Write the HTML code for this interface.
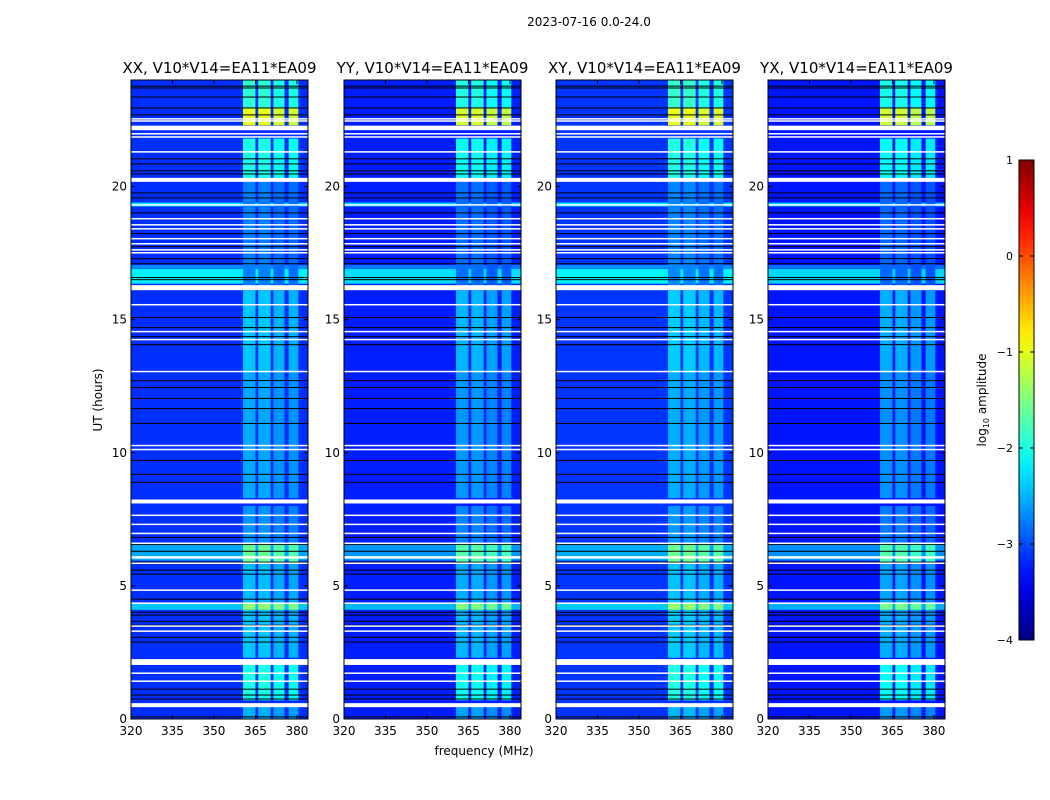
<!DOCTYPE html>
<html><head><meta charset="utf-8">
<style>
body{margin:0;background:#fff;font-family:"DejaVu Sans","Liberation Sans",sans-serif;}
#wrap{position:relative;width:1050px;height:800px;overflow:hidden;}
svg text{font-family:"DejaVu Sans","Liberation Sans",sans-serif;}
</style></head>
<body>
<div id="wrap">
<svg id="fig" width="1050" height="800"></svg>
</div>
<script>
// ---- data ----
const panelTitles = ["XX, V10*V14=EA11*EA09","YY, V10*V14=EA11*EA09","XY, V10*V14=EA11*EA09","YX, V10*V14=EA11*EA09"];
const panelGain = [0, -0.08, 0.03, -0.12];
const freqTicks = [320,335,350,365,380];
const hourTicks = [0,5,10,15,20];
const cbTicks = [1,0,-1,-2,-3,-4];
const cbTickLabels = ["1","0","\u22121","\u22122","\u22123","\u22124"];
const baseLevel = -3.15;
// white flagged rows: [hour, thickness in hours]
const whiteRows = [[22.54,0.05],[22.46,0.05],[22.2,0.17],[21.98,0.05],[21.86,0.05],[21.3,0.05],[20.25,0.15],[19.31,0.05],[18.79,0.05],[18.56,0.05],[18.41,0.05],[18.04,0.05],[17.85,0.05],[17.62,0.05],[17.51,0.05],[16.2,0.19],[15.56,0.05],[14.55,0.05],[14.25,0.05],[13.05,0.05],[10.27,0.05],[10.12,0.05],[8.17,0.15],[7.65,0.05],[7.31,0.05],[6.97,0.05],[6.6,0.05],[6.07,0.09],[5.85,0.05],[4.84,0.05],[4.35,0.05],[3.49,0.05],[3.3,0.05],[2.14,0.22],[1.72,0.05],[1.42,0.05],[0.52,0.15]];
// black rows (hours)
const blackRows = [23.77,23.7,23.36,22.95,22.69,21.04,20.85,20.59,20.47,19.76,19.57,19.01,18.23,17.74,17.29,17.1,16.58,16.5,15.08,14.7,14.36,14.06,12.71,12.45,12.04,11.66,11.1,9.71,9.19,8.89,6.82,6.56,6.3,5.89,5.59,5.44,4.5,4.01,3.9,3.67,3.52,3.07,2.89,1.12,0.9,0.75,0.08];
// bright full-width rows: [start hr, end hr, log amplitude]
const wideRows = [[16.35,16.9,-2.2],[16.9,17.05,-2.7],[19.25,19.4,-2.3],[5.95,6.55,-2.55],[4.1,4.35,-2.4]];
// bright band columns in MHz
const bandCols = [[360.5,365],[366,370.5],[371.5,375.5],[377,380.5]];
const bandOffset = [0,0,-0.1,-0.1];
// band level vs time: [start hr, end hr, log amplitude]
const bandSegs = [[22.95,24,-1.9],[22.3,22.95,-1.0],[20.3,21.8,-2.0],[16.3,20.3,-2.75],[13,16.1,-2.4],[8.3,13,-2.55],[6.6,8,-2.65],[5.9,6.6,-1.6],[4.35,5.9,-2.45],[4.1,4.35,-1.4],[2.3,4.1,-2.4],[0.7,2.1,-2.0],[0,0.5,-2.5]];

// ---- helpers ----
const NS="http://www.w3.org/2000/svg";
const svg=document.getElementById('fig');
function mk(tag,attrs,parent){const e=document.createElementNS(NS,tag);for(const k in attrs)e.setAttribute(k,attrs[k]);(parent||svg).appendChild(e);return e;}
function jet(v){let t=(v+4)/5;t=Math.max(0,Math.min(1,t));
 const c=x=>Math.round(255*Math.max(0,Math.min(1,x)));
 return `rgb(${c(1.5-Math.abs(4*t-3))},${c(1.5-Math.abs(4*t-2))},${c(1.5-Math.abs(4*t-1))})`;}
const panelX=[131,344,556,768], PW=177, PT=80, PB=719;
const fMin=320,fMax=384, hMin=0,hMax=24;

mk('text',{x:589,y:26,'font-size':12,'text-anchor':'middle',}).textContent="2023-07-16 0.0-24.0";

panelTitles.forEach((title,pi)=>{
 const x0=panelX[pi];
 const fx=f=>x0+(f-fMin)/(fMax-fMin)*PW;
 const hy=h=>PB-(h-hMin)/(hMax-hMin)*(PB-PT);
 const g=mk('g',{});
 
 
 const gain=panelGain[pi];
 mk('rect',{x:x0,y:PT,width:PW,height:PB-PT,fill:jet(baseLevel+gain)},g);
 wideRows.forEach(r=>{const e=mk('rect',{x:x0,y:hy(r[1]),width:PW,height:hy(r[0])-hy(r[1]),fill:jet(r[2]+gain)},g);
  });
 bandSegs.forEach(s=>{bandCols.forEach((c,ci)=>{
  const e=mk('rect',{x:fx(c[0]),y:hy(s[1]),width:fx(c[1])-fx(c[0]),height:hy(s[0])-hy(s[1]),fill:jet(s[2]+bandOffset[ci]+gain)},g);
  });});
 blackRows.forEach(h=>{const e=mk('rect',{x:x0,y:hy(h)-0.5,width:PW,height:1,fill:'#000'},g);
  });
 whiteRows.forEach(r=>{const hh=Math.max(1.5,r[1]/24*(PB-PT));const e=mk('rect',{x:x0,y:hy(r[0])-hh/2,width:PW,height:hh,fill:'#fff'},g);
  });
 mk('rect',{x:x0,y:PT,width:PW,height:PB-PT,fill:'none',stroke:'#000','stroke-width':1},g);
 const t=mk('text',{x:x0+PW/2,y:PT-7,'font-size':15,'text-anchor':'middle'},g);t.textContent=title;
 
 freqTicks.forEach(f=>{const x=fx(f);mk('line',{x1:x,x2:x,y1:PB,y2:PB-4,stroke:'#000'},g);mk('line',{x1:x,x2:x,y1:PT,y2:PT+4,stroke:'#000'},g);
  const l=mk('text',{x:x,y:PB+16,'font-size':12,'text-anchor':'middle'},g);l.textContent=f;
  });
 hourTicks.forEach(h=>{const y=hy(h);mk('line',{x1:x0,x2:x0+4,y1:y,y2:y,stroke:'#000'},g);mk('line',{x1:x0+PW,x2:x0+PW-4,y1:y,y2:y,stroke:'#000'},g);
  const l=mk('text',{x:x0-4,y:y+4,'font-size':12,'text-anchor':'end'},g);l.textContent=h;
  });
});
mk('text',{x:484,y:755,'font-size':12,'text-anchor':'middle',}).textContent="frequency (MHz)";
mk('text',{x:102,y:400,'font-size':12,'text-anchor':'middle',transform:'rotate(-90 102 400)',}).textContent="UT (hours)";

// colorbar
const defs=mk('defs',{});const lg=mk('linearGradient',{id:'cbg',x1:0,y1:1,x2:0,y2:0},defs);
for(let i=0;i<=20;i++){mk('stop',{offset:i/20,'stop-color':jet(-4+5*i/20)},lg);}
const cb=mk('g',{});
mk('rect',{x:1019,y:160,width:15,height:480,fill:'url(#cbg)',stroke:'#000','stroke-width':1},cb);
cbTicks.forEach((v,i)=>{const y=640-(v+4)/5*480;
 mk('line',{x1:1019,x2:1023,y1:y,y2:y,stroke:'#000'},cb);mk('line',{x1:1034,x2:1030,y1:y,y2:y,stroke:'#000'},cb);
 const l=mk('text',{x:1013,y:y+4,'font-size':11,'text-anchor':'end'},cb);l.textContent=cbTickLabels[i];
 });
const cl=mk('text',{x:986,y:400,'font-size':12,'text-anchor':'middle',transform:'rotate(-90 986 400)',},cb);
cl.innerHTML='log<tspan font-size="8" dy="3">10</tspan><tspan dy="-3"> amplitude</tspan>';
</script>
</body></html>
